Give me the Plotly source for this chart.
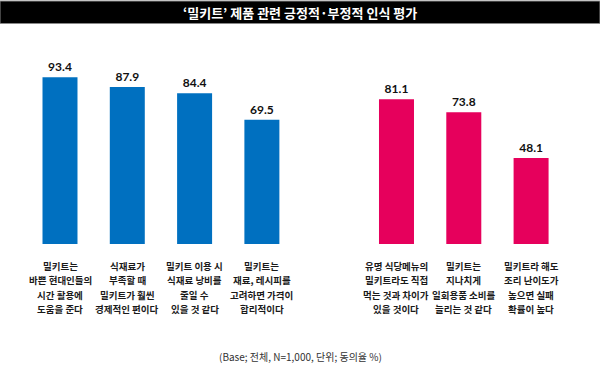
import plotly.graph_objects as go

title_text = "‘밀키트’ 제품 관련 긍정적·부정적 인식 평가"
footnote = "(Base; 전체, N=1,000, 단위; 동의율 %)"

pos_labels = [
    "밀키트는<br>바쁜 현대인들의<br>시간 활용에<br>도움을 준다",
    "식재료가<br>부족할 때<br>밀키트가 훨씬<br>경제적인 편이다",
    "밀키트 이용 시<br>식재료 낭비를<br>줄일 수<br>있을 것 같다",
    "밀키트는<br>재료, 레시피를<br>고려하면 가격이<br>합리적이다",
]
pos_values = [93.4, 87.9, 84.4, 69.5]

neg_labels = [
    "유명 식당메뉴의<br>밀키트라도 직접<br>먹는 것과 차이가<br>있을 것이다",
    "밀키트는<br>지나치게<br>일회용품 소비를<br>늘리는 것 같다",
    "밀키트라 해도<br>조리 난이도가<br>높으면 실패<br>확률이 높다",
]
neg_values = [81.1, 73.8, 48.1]

spacer = " "
category_order = pos_labels + [spacer] + neg_labels

BLUE = "#0070C0"
PINK = "#E6005C"
KFONT = "Noto Sans CJK KR"

fig = go.Figure()
fig.add_trace(go.Bar(
    x=pos_labels, y=pos_values, marker=dict(color=BLUE, line=dict(width=0)),
    width=0.52, texttemplate="%{y:.1f}", textposition="outside",
    textfont=dict(family="Lato", size=12, color="#111", weight="bold"),
    cliponaxis=False, hoverinfo="skip",
))
fig.add_trace(go.Bar(
    x=[spacer], y=[None], showlegend=False, hoverinfo="skip",
))
fig.add_trace(go.Bar(
    x=neg_labels, y=neg_values, marker=dict(color=PINK, line=dict(width=0)),
    width=0.52, texttemplate="%{y:.1f}", textposition="outside",
    textfont=dict(family="Lato", size=12, color="#111", weight="bold"),
    cliponaxis=False, hoverinfo="skip",
))

T, B = 30, 244
H = B - T

def py(p):
    return (B - p) / H

annotations = [
    dict(text="<b>" + title_text + "</b>", xref="paper", yref="paper", x=0.5,
         y=py(12.5), showarrow=False,
         font=dict(family=KFONT, size=13, color="white"),
         xanchor="center", yanchor="middle"),
    dict(text=footnote, xref="paper", yref="paper", x=0.5, y=py(356),
         showarrow=False, font=dict(family=KFONT, size=10, color="#333"),
         xanchor="center", yanchor="middle"),
]
# category labels under the bars, one annotation per line
for label in pos_labels + neg_labels:
    for i, line in enumerate(label.split("<br>")):
        annotations.append(dict(
            text=line, xref="x", yref="paper", x=label, y=py(265.5 + i * 14.5),
            showarrow=False,
            font=dict(family=KFONT, size=9.5, color="#1a1a1a", weight="bold"),
            xanchor="center", yanchor="middle",
        ))

fig.update_layout(
    width=600, height=369,
    margin=dict(l=0, r=0, t=T, b=369 - B),
    paper_bgcolor="white", plot_bgcolor="white",
    barmode="overlay", showlegend=False,
    xaxis=dict(
        type="category", categoryorder="array", categoryarray=category_order,
        range=[-0.8915, 8.024], showgrid=False, zeroline=False, showline=False,
        ticks="", showticklabels=False, automargin=False, fixedrange=True,
    ),
    yaxis=dict(range=[0, H / 1.786], visible=False, fixedrange=True,
               automargin=False),
    shapes=[dict(
        type="rect", xref="paper", yref="paper", x0=0, x1=1,
        y0=py(23.5), y1=py(1), fillcolor="black",
        line=dict(color="#888", width=1), layer="above",
    )],
    annotations=annotations,
)

fig.write_html("out.html", config={"displayModeBar": False},
               post_script="document.body.style.margin='0';")
